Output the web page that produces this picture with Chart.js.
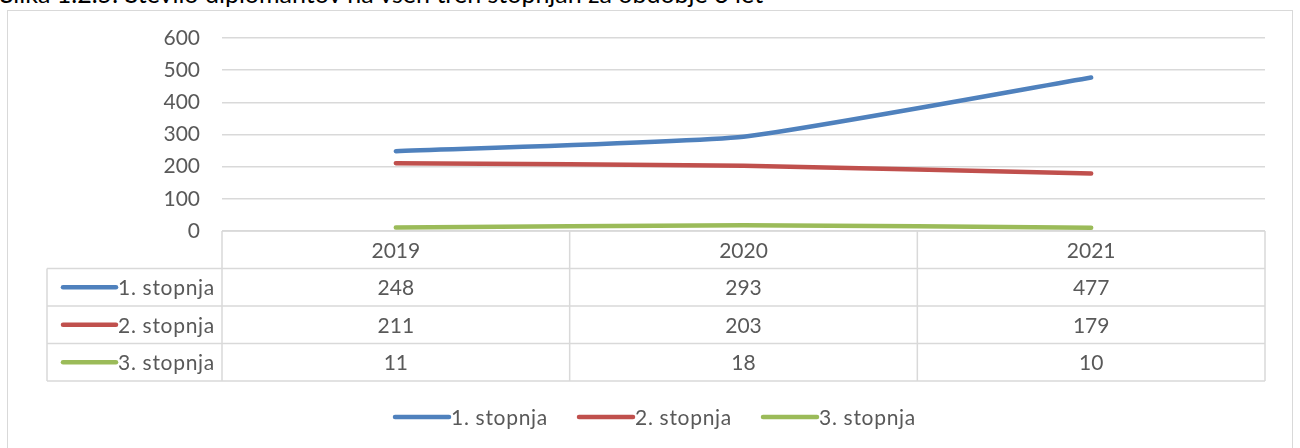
<!DOCTYPE html>
<html>
<head>
<meta charset="utf-8">
<script src="https://cdn.jsdelivr.net/npm/chart.js@4"></script>
<style>
  html, body { margin: 0; padding: 0; background: #fff; overflow: hidden; }
  #wrap { position: relative; width: 1300px; height: 448px; }
  #title { position: absolute; left: 0; top: -22px; font: 25px Lato, sans-serif; color: #000; white-space: nowrap; }
  #frame { position: absolute; left: 7px; top: 10px; width: 1286px; height: 460px; border: 1.5px solid #D9D9D9; box-sizing: border-box; }
  canvas { position: absolute; left: 0; top: 0; }
</style>
</head>
<body>
<div id="wrap">
  <div id="title">Slika 1.2.5: Število diplomantov na vseh treh stopnjah za obdobje 3 let</div>
  <div id="frame"></div>
  <canvas id="chart" width="1300" height="448"></canvas>
</div>
<script>
const years = ['2019', '2020', '2021'];
const seriesNames = ['1. stopnja', '2. stopnja', '3. stopnja'];
const stopnja1 = [248, 293, 477];
const stopnja2 = [211, 203, 179];
const stopnja3 = [11, 18, 10];
const seriesColors = ['#4F81BD', '#C0504D', '#9BBB59'];
const yTicks = [0, 100, 200, 300, 400, 500, 600];

const FONT = 'Lato, sans-serif';
const FSIZE = 21;
const TEXT = '#595959';
const GRID = '#D9D9D9';
const allSeries = [stopnja1, stopnja2, stopnja3];

// data table + legend under the plot
const tablePlugin = {
  id: 'dataTable',
  afterDraw(chart) {
    const { ctx, chartArea, scales } = chart;
    const x = scales.x;
    const left = chartArea.left, right = chartArea.right, top = chartArea.bottom;
    const rowH = 37.5;
    const labelLeft = 47;
    const colW = (right - left) / years.length;
    ctx.save();
    ctx.strokeStyle = GRID;
    ctx.lineWidth = 1.5;
    ctx.beginPath();
    ctx.moveTo(left, top); ctx.lineTo(right, top);
    for (let i = 0; i <= years.length; i++) {
      const cx = left + i * colW;
      ctx.moveTo(cx, top); ctx.lineTo(cx, top + rowH * (seriesNames.length + 1));
    }
    for (let r = 1; r <= seriesNames.length + 1; r++) {
      ctx.moveTo(labelLeft, top + r * rowH); ctx.lineTo(right, top + r * rowH);
    }
    ctx.moveTo(labelLeft, top + rowH); ctx.lineTo(labelLeft, top + rowH * (seriesNames.length + 1));
    ctx.stroke();

    ctx.font = FSIZE + 'px ' + FONT;
    ctx.fillStyle = TEXT;
    ctx.textAlign = 'center';
    ctx.textBaseline = 'middle';
    years.forEach((yr, i) => {
      ctx.fillText(yr, x.getPixelForValue(i), top + rowH / 2 + 1);
    });
    allSeries.forEach((vals, r) => {
      const cy = top + rowH * (r + 1) + rowH / 2 + 1;
      vals.forEach((v, i) => {
        ctx.fillStyle = TEXT;
        ctx.textAlign = 'center';
        ctx.fillText(String(v), x.getPixelForValue(i), cy);
      });
      // row key
      ctx.strokeStyle = seriesColors[r];
      ctx.lineWidth = 4.5;
      ctx.lineCap = 'round';
      ctx.beginPath();
      ctx.moveTo(63, cy - 1); ctx.lineTo(116, cy - 1);
      ctx.stroke();
      ctx.fillStyle = TEXT;
      ctx.textAlign = 'left';
      ctx.letterSpacing = '0.7px';
      ctx.fillText(seriesNames[r], 118, cy);
      ctx.letterSpacing = '0px';
    });

    // bottom legend
    const legendX = [395, 579, 763];
    const ly = 418;
    seriesNames.forEach((name, r) => {
      ctx.strokeStyle = seriesColors[r];
      ctx.lineWidth = 4.5;
      ctx.lineCap = 'round';
      ctx.beginPath();
      ctx.moveTo(legendX[r], ly - 1); ctx.lineTo(legendX[r] + 54, ly - 1);
      ctx.stroke();
      ctx.fillStyle = TEXT;
      ctx.textAlign = 'left';
      ctx.letterSpacing = '0.7px';
      ctx.fillText(name, legendX[r] + 56, ly);
      ctx.letterSpacing = '0px';
    });
    ctx.restore();
  }
};

new Chart(document.getElementById('chart'), {
  type: 'line',
  data: {
    labels: years,
    datasets: seriesNames.map((name, i) => ({
      label: name,
      data: allSeries[i],
      borderColor: seriesColors[i],
      backgroundColor: seriesColors[i],
      borderWidth: 4.5,
      pointRadius: 0,
      tension: 0.15,
      borderCapStyle: 'round'
    }))
  },
  options: {
    responsive: false,
    animation: false,
    layout: { padding: { top: 38, right: 35, bottom: 217, left: 0 } },
    plugins: { legend: { display: false }, tooltip: { enabled: false } },
    scales: {
      x: {
        offset: true,
        afterFit(s) { s.height = 0; },
        grid: { display: false },
        border: { display: false },
        ticks: { display: false }
      },
      y: {
        min: 0, max: 600,
        afterFit(s) { s.width = 222; },
        afterBuildTicks(s) { s.ticks = yTicks.map(v => ({ value: v })); },
        grid: { color: GRID, lineWidth: 1.5, drawTicks: false },
        border: { display: false },
        ticks: { padding: 22, color: TEXT, font: { family: FONT, size: FSIZE } }
      }
    }
  },
  plugins: [tablePlugin]
});
</script>
</body>
</html>
